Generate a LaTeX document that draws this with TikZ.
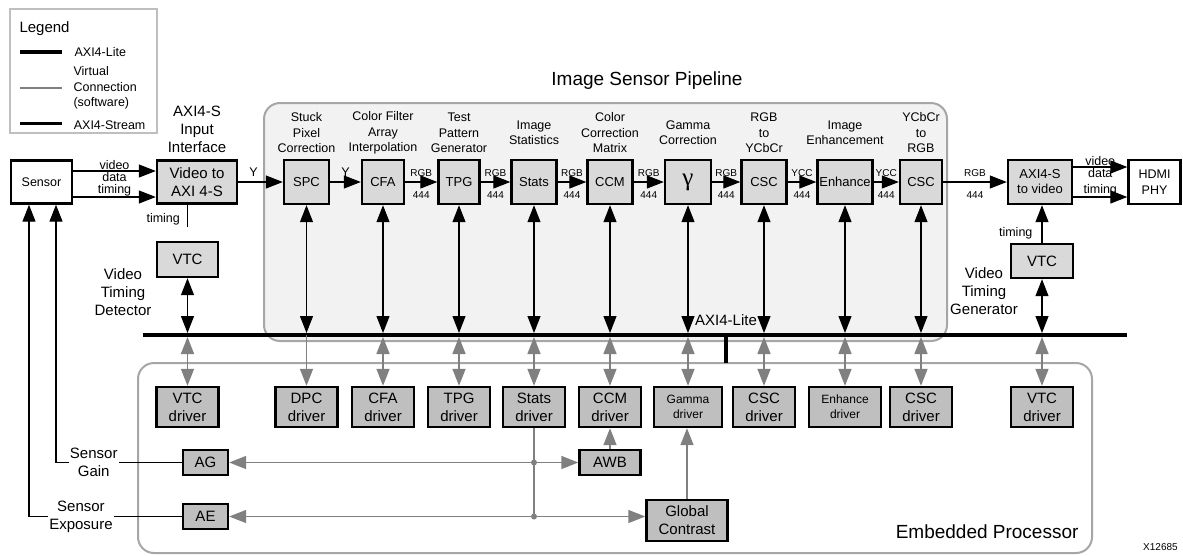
\documentclass[tikz,border=0pt]{standalone}
\usepackage{fontspec}
\setmainfont{Liberation Sans}
\newfontfamily\greekfont{Liberation Serif}
\usetikzlibrary{positioning, calc, arrows.meta, backgrounds}
\definecolor{pipefill}{HTML}{D9D9D9}
\definecolor{drvfill}{HTML}{BFBFBF}
\definecolor{pipebg}{HTML}{F2F2F2}
\definecolor{regionline}{HTML}{A6A6A6}
\definecolor{soft}{HTML}{808080}

\begin{document}
\begin{tikzpicture}[
    x=1pt, y=-1pt,
    font=\fontsize{12.5}{15.5}\selectfont,
    tip/.tip={Triangle[length=17pt 0, width=13pt 0]},
    lblfont/.style={font=\fontsize{12.5}{15.5}\selectfont, align=center},
    bigfont/.style={font=\fontsize{15}{18}\selectfont, align=center},
    tinyfont/.style={font=\fontsize{10}{12}\selectfont, inner sep=1pt},
    titlefont/.style={font=\fontsize{19}{22}\selectfont},
    block/.style={
        draw,
        line width=2.4pt,
        align=center,
        inner sep=1pt
    },
    pipe/.style={block, fill=pipefill, minimum width=45pt, minimum height=44pt,
        font=\fontsize{13}{15}\selectfont},
    ext/.style={block, fill=white, minimum height=43pt},
    drv/.style={block, fill=drvfill, minimum width=62pt, minimum height=40pt, bigfont},
    sw/.style={block, fill=drvfill, minimum height=25pt, bigfont},
    stream/.style={-tip, line width=1.2pt},
    ctrl/.style={tip-tip, line width=1.2pt},
    virt/.style={tip-tip, draw=soft, line width=1.5pt},
    oneway/.style={-tip, draw=soft, line width=1.5pt},
    region/.style={draw=regionline, line width=2pt, rounded corners=16pt}
]
\useasboundingbox (0,0) rectangle (1183,555);

\draw[region, fill=pipebg] (264,103) rectangle (947,341);
\draw[region, fill=white] (138,363) rectangle (1092,553);
\node[titlefont] (pipetitle) at (647,81) {Image Sensor Pipeline};
\node[titlefont, anchor=east] (eptitle) at (1082,532) {Embedded Processor};

% legend
\draw[draw=drvfill, line width=2pt] (10,9) rectangle (157,133);
\node[bigfont, anchor=west] (legtitle) at (16,29) {Legend};
\draw[line width=4.5pt] (20,52) -- (62,52) node[right=7pt] (leglite) {AXI4-Lite};
\draw[draw=soft, line width=2.5pt] (20,88) -- (62,88)
    node[right=7pt, align=left] (legvirt) {Virtual\\Connection\\(software)};
\draw[line width=3pt] (20,123) -- (62,123) node[right=7pt, yshift=-2pt] (legstream) {AXI4-Stream};

% video input
\node[ext, minimum width=61pt] (sensor) at (41.5,182) {Sensor};
\node[pipe, minimum width=80pt, minimum height=43pt, bigfont] (v2axi) at (197,182) {Video to\\AXI 4-S};
\node[bigfont] (v2axilbl) at ([yshift=30pt]v2axi.north) {AXI4-S\\Input\\Interface};
\node[pipe, minimum width=61pt, minimum height=35pt, bigfont] (vtcL) at (187.5,259.5) {VTC};
\node[bigfont] (vtdlbl) at ([xshift=-64.5pt, yshift=-32.5pt]vtcL.center) {Video\\Timing\\Detector};

% pipeline
\node[pipe] (spc) at (306.5,182) {SPC};
\node[pipe, minimum width=42pt] (cfa) at (383,182) {CFA};
\node[pipe, minimum width=41pt] (tpg) at (459,182) {TPG};
\node[pipe] (stats) at (534,182) {Stats};
\node[pipe] (ccm) at (610,182) {CCM};
\node[pipe, minimum width=46pt, font=\greekfont\fontsize{25}{25}\selectfont] (gam) at (688,182) {γ};
\node[pipe] (csc1) at (764,182) {CSC};
\node[pipe, minimum width=55pt] (enh) at (845,182) {Enhance};
\node[pipe, minimum width=42pt] (csc2) at (921,182) {CSC};

\node[lblfont] (spclbl) at ([yshift=26pt]spc.north) {Stuck\\Pixel\\Correction};
\node[lblfont] (cfalbl) at ([yshift=26pt]cfa.north) {Color Filter\\Array\\Interpolation};
\node[lblfont] (tpglbl) at ([yshift=26pt]tpg.north) {Test\\Pattern\\Generator};
\node[lblfont] (statslbl) at ([yshift=26pt]stats.north) {Image\\Statistics};
\node[lblfont] (ccmlbl) at ([yshift=26pt]ccm.north) {Color\\Correction\\Matrix};
\node[lblfont] (gamlbl) at ([yshift=26pt]gam.north) {Gamma\\Correction};
\node[lblfont] (csc1lbl) at ([yshift=26pt]csc1.north) {RGB\\to\\YCbCr};
\node[lblfont] (enhlbl) at ([yshift=26pt]enh.north) {Image\\Enhancement};
\node[lblfont] (csc2lbl) at ([yshift=26pt]csc2.north) {YCbCr\\to\\RGB};

% video output
\node[pipe, minimum width=64pt] (axi2v) at (1040,182) {AXI4-S\\to video};
\node[ext, minimum width=52pt, minimum height=44pt] (hdmi) at (1154.5,182) {HDMI\\PHY};
\node[pipe, minimum width=62pt, minimum height=34pt, bigfont] (vtcR) at (1042,261) {VTC};
\node[bigfont] (vtglbl) at ([xshift=-58pt, yshift=-30pt]vtcR.center) {Video\\Timing\\Generator};

% drivers
\coordinate (drvrow) at (0,407);
\node[drv] (vtcdrvL) at (vtcL |- drvrow) {VTC\\driver};
\node[drv] (dpcdrv) at (spc |- drvrow) {DPC\\driver};
\node[drv] (cfadrv) at (cfa |- drvrow) {CFA\\driver};
\node[drv] (tpgdrv) at (tpg |- drvrow) {TPG\\driver};
\node[drv] (statsdrv) at (stats |- drvrow) {Stats\\driver};
\node[drv] (ccmdrv) at (ccm |- drvrow) {CCM\\driver};
\node[drv, minimum width=68pt, font=\fontsize{12}{15}\selectfont] (gamdrv) at (gam |- drvrow) {Gamma\\driver};
\node[drv] (csc1drv) at (csc1 |- drvrow) {CSC\\driver};
\node[drv, minimum width=72pt, font=\fontsize{12}{15}\selectfont] (enhdrv) at (enh |- drvrow) {Enhance\\driver};
\node[drv] (csc2drv) at (csc2 |- drvrow) {CSC\\driver};
\node[drv] (vtcdrvR) at (vtcR |- drvrow) {VTC\\driver};

\node[sw, minimum width=45pt] (ag) at (205.5,462.5) {AG};
\node[sw, minimum width=45pt] (ae) at (205.5,516.5) {AE};
\node[sw, minimum width=61pt] (awb) at (ccmdrv |- ag) {AWB};
\node[sw, minimum width=81pt, minimum height=41pt] (gc) at (687,520.5) {Global\\Contrast};

% AXI4-Lite bus
\coordinate (busL) at (143,335);
\coordinate (busR) at (1127,335);
\draw[line width=4.5pt] (busL) -- (busR);
\node[bigfont] (buslbl) at (726,320) {AXI4-Lite};
\draw[line width=4.5pt] (buslbl.south |- busL) -- ++(0,28);

% streams
\draw[stream] ([yshift=11pt]sensor.east) -- ([yshift=11pt]sensor.east -| v2axi.west)
    node[midway, above, inner sep=0.5pt] {video} node[midway, below, inner sep=0.5pt] {data};
\draw[stream] ([yshift=-15pt]sensor.east) -- ([yshift=-15pt]sensor.east -| v2axi.west)
    node[midway, above, inner sep=0pt] {timing};
\draw[line width=1.2pt] (v2axi.south -| vtcL.north) -- ++(0,22)
    node[pos=0.64, left=7pt, inner sep=0pt] {timing};
\draw[stream] (v2axi) -- (spc) node[midway, above=2pt, xshift=-7pt] {Y};
\draw[stream] (spc) -- (cfa) node[midway, above=2pt] {Y};
\foreach \a/\b in {cfa/tpg, tpg/stats, stats/ccm, ccm/gam, gam/csc1, csc2/axi2v}
  \draw[stream] (\a) -- (\b) node[midway, above=4pt, tinyfont] {RGB} node[midway, below=8pt, tinyfont] {444};
\foreach \a/\b in {csc1/enh, enh/csc2}
  \draw[stream] (\a) -- (\b) node[midway, above=4pt, tinyfont] {YCC} node[midway, below=8pt, tinyfont] {444};
\draw[stream] ([yshift=15pt]axi2v.east) -- ([yshift=15pt]axi2v.east -| hdmi.west)
    node[midway, above, inner sep=0.5pt] {video} node[midway, below, inner sep=0.5pt] {data};
\draw[stream] ([yshift=-15pt]axi2v.east) -- ([yshift=-15pt]axi2v.east -| hdmi.west)
    node[midway, above, inner sep=0pt] {timing};
\draw[stream] (vtcR.north) -- (vtcR.north |- axi2v.south)
    node[pos=0.25, left=9pt, inner sep=0pt] {timing};

% register access
\foreach \n in {vtcL, spc, cfa, tpg, stats, ccm, gam, csc1, enh, csc2, vtcR}
  \draw[ctrl, shorten >=2pt] (\n.south) -- (\n.south |- busL);
\foreach \d in {vtcdrvL, cfadrv, tpgdrv, statsdrv, ccmdrv, gamdrv, csc1drv, enhdrv, csc2drv, vtcdrvR}
  \draw[virt, shorten <=2pt] (\d.north |- busL) -- (\d.north);
\draw[oneway] (dpcdrv.north |- busL) -- (dpcdrv.north);

% software control
\coordinate (j1) at (statsdrv.south |- ag);
\coordinate (j2) at (statsdrv.south |- ae);
\draw[draw=soft, line width=1.5pt] (statsdrv.south) -- (j2);
\draw[oneway] (j1) -- (ag.east);
\draw[oneway] (j1) -- (awb.west);
\draw[oneway] (j2) -- (ae.east);
\draw[oneway] (j2) -- (j2 -| gc.west);
\fill[soft] (j1) circle (3pt) (j2) circle (3pt);
\draw[oneway] (awb.north) -- (awb.north |- ccmdrv.south);
\draw[oneway] (gc.north) -- (gc.north |- gamdrv.south);

\draw[stream] (ag.west) -| ([xshift=14.5pt]sensor.south)
    node[pos=0.35, fill=white, inner sep=1pt, bigfont] {Sensor\\Gain};
\draw[stream] (ae.west) -| ([xshift=-12.5pt]sensor.south)
    node[pos=0.33, fill=white, inner sep=1pt, bigfont] {Sensor\\Exposure};

\node[font=\fontsize{10}{12}\selectfont, anchor=north west, inner sep=0pt] (figid) at (1143,543) {X12685};

\end{tikzpicture}
\end{document}
